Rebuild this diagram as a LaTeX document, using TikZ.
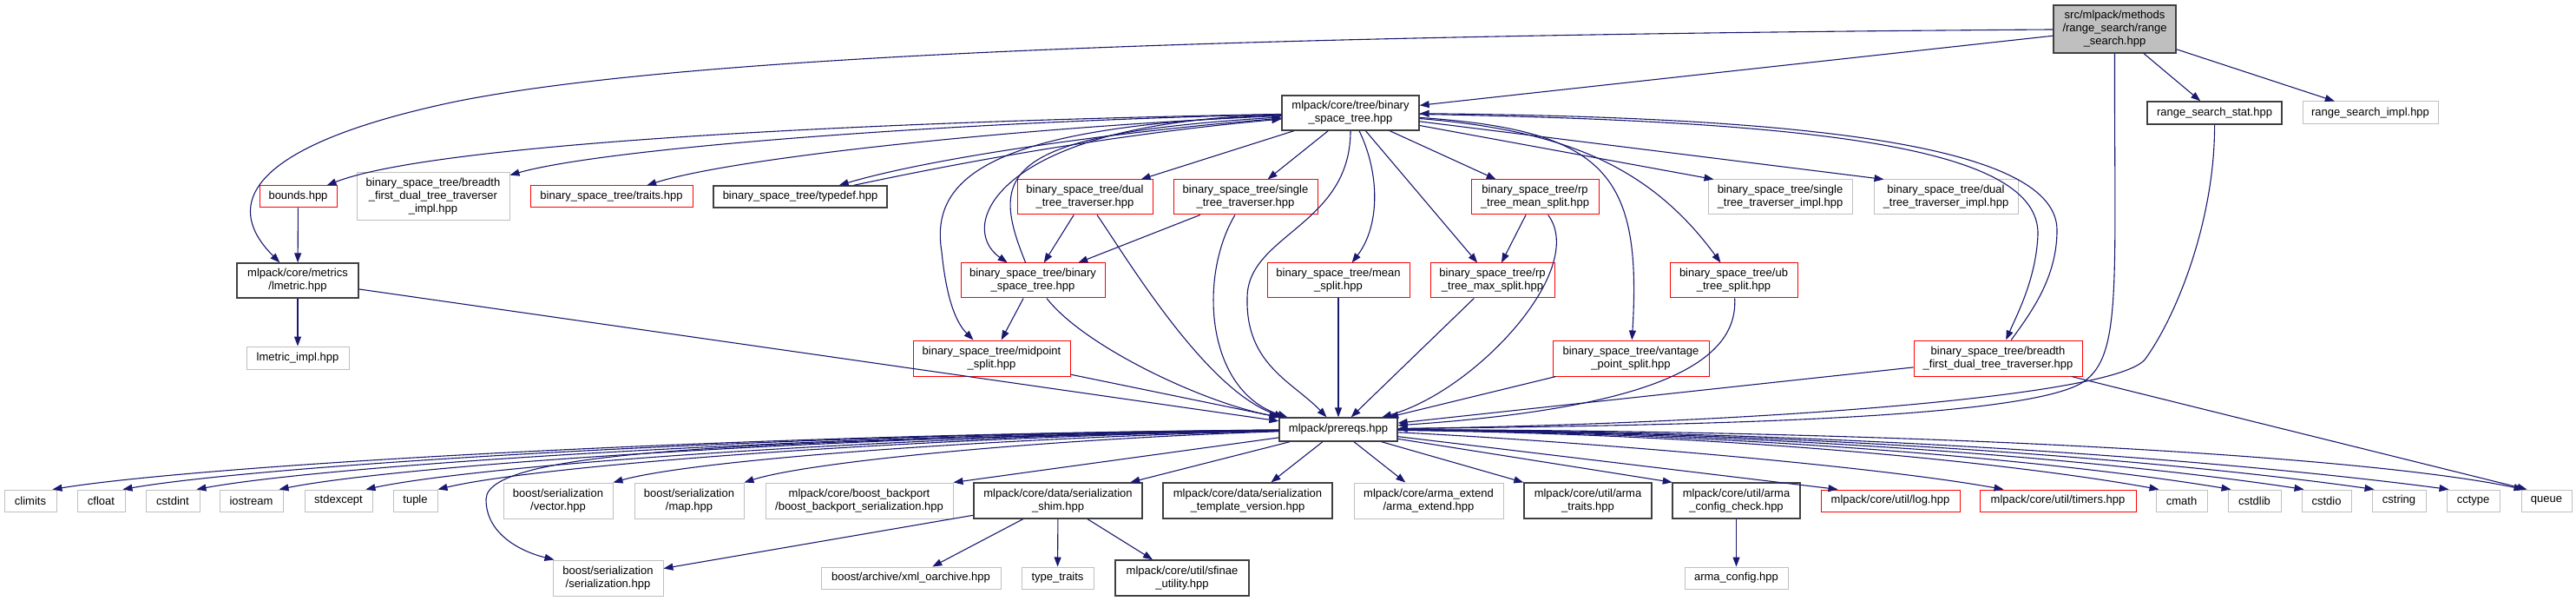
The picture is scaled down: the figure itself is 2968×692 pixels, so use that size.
\documentclass[tikz,border=0pt]{standalone}
\usepackage{fontspec}
\setmainfont{Liberation Sans}
\usetikzlibrary{arrows.meta}
\definecolor{edgecol}{HTML}{191970}
\definecolor{greyb}{HTML}{BFBFBF}
\definecolor{rootfill}{HTML}{BFBFBF}
\definecolor{darkb}{HTML}{404040}
\tikzset{
  nd/.style={rectangle, fill=white, inner sep=0pt, align=center, font=\fontsize{13}{15}\selectfont, line width=1pt, text=black},
  gy/.style={nd, draw=greyb},
  rd/.style={nd, draw=red},
  bk/.style={nd, draw=darkb, line width=1.3pt},
  rt/.style={nd, draw=darkb, fill=rootfill, line width=1.3pt},
  dep/.style={draw=edgecol, line width=1.1pt, -{Triangle[length=11pt,width=8pt]}},
}
\begin{document}
\begin{tikzpicture}[x=1pt,y=-1pt]
\useasboundingbox (0,0) rectangle (2968,692);
% level 0
\node[rt, minimum width=141pt, minimum height=55pt] (root) at (2436.5,33.5) {src/mlpack/methods\\/range\_search/range\\\_search.hpp};
% level 1
\node[bk, minimum width=155pt, minimum height=26pt] (stat) at (2551.5,130) {range\_search\_stat.hpp};
\node[gy, minimum width=156pt, minimum height=26pt] (impl) at (2731,130) {range\_search\_impl.hpp};
\node[bk, minimum width=158pt, minimum height=40pt] (BST) at (1556,130) {mlpack/core/tree/binary\\\_space\_tree.hpp};
% level 2
\node[rd, minimum width=89pt, minimum height=25pt] (bounds) at (343.5,226.5) {bounds.hpp};
\node[gy, minimum width=176pt, minimum height=55pt] (bfdttimpl) at (499,226.5) {binary\_space\_tree/breadth\\\_first\_dual\_tree\_traverser\\\_impl.hpp};
\node[rd, minimum width=187pt, minimum height=25pt] (traits) at (704.5,226.5) {binary\_space\_tree/traits.hpp};
\node[bk, minimum width=200pt, minimum height=25pt] (typedef) at (922,226.5) {binary\_space\_tree/typedef.hpp};
\node[rd, minimum width=156pt, minimum height=40pt] (dualtt) at (1250,227) {binary\_space\_tree/dual\\\_tree\_traverser.hpp};
\node[rd, minimum width=166pt, minimum height=40pt] (singlett) at (1435,227) {binary\_space\_tree/single\\\_tree\_traverser.hpp};
\node[rd, minimum width=147pt, minimum height=40pt] (rpmean) at (1768.5,227) {binary\_space\_tree/rp\\\_tree\_mean\_split.hpp};
\node[gy, minimum width=166pt, minimum height=40pt] (singleimpl) at (2051,227) {binary\_space\_tree/single\\\_tree\_traverser\_impl.hpp};
\node[gy, minimum width=166pt, minimum height=40pt] (dualimpl) at (2242,227) {binary\_space\_tree/dual\\\_tree\_traverser\_impl.hpp};
% level 3
\node[bk, minimum width=140pt, minimum height=40pt] (lmetric) at (343,323) {mlpack/core/metrics\\/lmetric.hpp};
\node[rd, minimum width=166pt, minimum height=40pt] (bstbst) at (1190,323) {binary\_space\_tree/binary\\\_space\_tree.hpp};
\node[rd, minimum width=164pt, minimum height=40pt] (mean) at (1542,323) {binary\_space\_tree/mean\\\_split.hpp};
\node[rd, minimum width=143pt, minimum height=40pt] (rpmax) at (1719.5,323) {binary\_space\_tree/rp\\\_tree\_max\_split.hpp};
\node[rd, minimum width=147pt, minimum height=40pt] (ub) at (1997.5,323) {binary\_space\_tree/ub\\\_tree\_split.hpp};
% level 4
\node[gy, minimum width=118pt, minimum height=26pt] (lmetricimpl) at (343,412) {lmetric\_impl.hpp};
\node[rd, minimum width=181pt, minimum height=41pt] (midpoint) at (1142.5,412.5) {binary\_space\_tree/midpoint\\\_split.hpp};
\node[rd, minimum width=180pt, minimum height=41pt] (vantage) at (1879,412.5) {binary\_space\_tree/vantage\\\_point\_split.hpp};
\node[rd, minimum width=194pt, minimum height=41pt] (bfdtt) at (2302,412.5) {binary\_space\_tree/breadth\\\_first\_dual\_tree\_traverser.hpp};
% prereqs
\node[bk, minimum width=136pt, minimum height=27pt] (prereqs) at (1542,494.5) {mlpack/prereqs.hpp};
% level 6
\node[gy, minimum width=60pt, minimum height=25pt] (climits) at (35,576.5) {climits};
\node[gy, minimum width=55pt, minimum height=25pt] (cfloat) at (116.5,576.5) {cfloat};
\node[gy, minimum width=62pt, minimum height=25pt] (cstdint) at (199,576.5) {cstdint};
\node[gy, minimum width=73pt, minimum height=25pt] (iostream) at (289.5,576.5) {iostream};
\node[gy, minimum width=78pt, minimum height=25pt] (stdexcept) at (390,576.5) {stdexcept};
\node[gy, minimum width=51pt, minimum height=25pt] (tuple) at (478.5,576.5) {tuple};
\node[gy, minimum width=126pt, minimum height=41pt] (vector) at (643,576.5) {boost/serialization\\/vector.hpp};
\node[gy, minimum width=126pt, minimum height=41pt] (map) at (794,576.5) {boost/serialization\\/map.hpp};
\node[gy, minimum width=216pt, minimum height=41pt] (backport) at (990,576.5) {mlpack/core/boost\_backport\\/boost\_backport\_serialization.hpp};
\node[bk, minimum width=194pt, minimum height=41pt] (shim) at (1219,576.5) {mlpack/core/data/serialization\\\_shim.hpp};
\node[bk, minimum width=195pt, minimum height=41pt] (tmplver) at (1437.5,576.5) {mlpack/core/data/serialization\\\_template\_version.hpp};
\node[gy, minimum width=172pt, minimum height=41pt] (armaext) at (1646,576.5) {mlpack/core/arma\_extend\\/arma\_extend.hpp};
\node[bk, minimum width=147pt, minimum height=41pt] (armatraits) at (1829.5,576.5) {mlpack/core/util/arma\\\_traits.hpp};
\node[bk, minimum width=147pt, minimum height=41pt] (armacc) at (2000.5,576.5) {mlpack/core/util/arma\\\_config\_check.hpp};
\node[rd, minimum width=160pt, minimum height=25pt] (log) at (2178,576.5) {mlpack/core/util/log.hpp};
\node[rd, minimum width=180pt, minimum height=25pt] (timers) at (2371,576.5) {mlpack/core/util/timers.hpp};
\node[gy, minimum width=59pt, minimum height=25pt] (cmath) at (2513.5,576.5) {cmath};
\node[gy, minimum width=61pt, minimum height=25pt] (cstdlib) at (2597.5,576.5) {cstdlib};
\node[gy, minimum width=57pt, minimum height=25pt] (cstdio) at (2680.5,576.5) {cstdio};
\node[gy, minimum width=62pt, minimum height=25pt] (cstring) at (2764,576.5) {cstring};
\node[gy, minimum width=61pt, minimum height=25pt] (cctype) at (2849.5,576.5) {cctype};
\node[gy, minimum width=58pt, minimum height=25pt] (queue) at (2934,576.5) {queue};
% level 7
\node[gy, minimum width=127pt, minimum height=41pt] (serial) at (700.5,665.5) {boost/serialization\\/serialization.hpp};
\node[gy, minimum width=207pt, minimum height=25pt] (xml) at (1049.5,665.5) {boost/archive/xml\_oarchive.hpp};
\node[gy, minimum width=83pt, minimum height=25pt] (typetraits) at (1218.5,665.5) {type\_traits};
\node[bk, minimum width=154pt, minimum height=41pt] (sfinae) at (1362,665.5) {mlpack/core/util/sfinae\\\_utility.hpp};
\node[gy, minimum width=119pt, minimum height=25pt] (armaconfig) at (2000.5,665.5) {arma\_config.hpp};

% ---- edges from root
\draw[dep] (root) -- (BST);
\draw[dep] (root) .. controls (1500,40) and (800,60) .. (520,118) .. controls (300,165) and (250,230) .. (lmetric);
\draw[dep] (root) -- (stat);
\draw[dep] (root) -- (impl);
\draw[dep] (root) .. controls (2436,330) and (2445,410) .. (2400,440) .. controls (2330,485) and (1900,490) .. (prereqs);
\draw[dep] (stat) .. controls (2552,250) and (2510,360) .. (2472,413) .. controls (2440,458) and (2000,488) .. (prereqs);
% ---- edges from BST
\draw[dep] (BST) .. controls (1000,140) and (500,165) .. (bounds);
\draw[dep] (BST) .. controls (1100,140) and (700,170) .. (bfdttimpl);
\draw[dep] (BST) .. controls (1200,145) and (850,180) .. (traits);
\draw[dep] (BST) .. controls (1300,150) and (1080,180) .. (typedef);
\draw[dep] (typedef) .. controls (1140,180) and (1310,152) .. (BST);
\draw[dep] (BST) .. controls (1150,140) and (1100,260) .. (bstbst);
\draw[dep] (bstbst) .. controls (1140,200) and (1150,155) .. (BST);
\draw[dep] (BST) .. controls (1150,145) and (1070,200) .. (1085,290) .. controls (1090,340) and (1100,370) .. (midpoint);
\draw[dep] (BST) -- (dualtt);
\draw[dep] (BST) -- (singlett);
\draw[dep] (BST) .. controls (1556,260) and (1437,270) .. (1437,343) .. controls (1435,420) and (1490,440) .. (prereqs);
\draw[dep] (BST) .. controls (1590,200) and (1590,260) .. (mean);
\draw[dep] (BST) -- (rpmax);
\draw[dep] (BST) -- (rpmean);
\draw[dep] (BST) -- (singleimpl.165);
\draw[dep] (BST) -- (dualimpl.164);
\draw[dep] (BST) .. controls (1800,150) and (1900,190) .. (ub);
\draw[dep] (BST) .. controls (1850,150) and (1892,200) .. (vantage);
\draw[dep] (BST) .. controls (2100,140) and (2350,170) .. (2348,270) .. controls (2346,320) and (2325,360) .. (bfdtt);
\draw[dep] (bfdtt) .. controls (2340,360) and (2370,320) .. (2370,265) .. controls (2370,170) and (2100,135) .. (BST);
% ---- middle edges
\draw[dep] (dualtt) -- (bstbst);
\draw[dep] (singlett) -- (bstbst);
\draw[dep] (dualtt) .. controls (1300,300) and (1390,450) .. ([xshift=6pt]prereqs.north west);
\draw[dep] (singlett) .. controls (1380,320) and (1390,450) .. ([xshift=10pt]prereqs.north west);
\draw[dep] (bstbst) .. controls (1250,400) and (1390,465) .. ([xshift=2pt]prereqs.north west);
\draw[dep] (bstbst) -- (midpoint);
\draw[dep] (midpoint) -- (prereqs);
\draw[dep] (mean) -- (prereqs);
\draw[dep] (rpmax) -- (prereqs);
\draw[dep] (rpmean) -- (rpmax);
\draw[dep] (rpmean) .. controls (1830,310) and (1700,450) .. (prereqs);
\draw[dep] (ub) .. controls (2003,420) and (1900,470) .. (prereqs);
\draw[dep] (vantage) -- (prereqs);
\draw[dep] (bfdtt) -- (prereqs);
\draw[dep] (bfdtt) -- (queue.150);
\draw[dep] (lmetric) -- (prereqs);
\draw[dep] (bounds) -- (lmetric);
\draw[dep] (lmetric) -- (lmetricimpl);
% ---- edges from prereqs, left
\draw[dep] (prereqs) .. controls (838,500) and (230,536) .. ([xshift=-5pt]climits.north east);
\draw[dep] (prereqs) .. controls (874,500) and (300,536) .. ([xshift=-3pt]cfloat.north east);
\draw[dep] (prereqs) .. controls (912,501) and (375,536) .. ([xshift=-4pt]cstdint.north east);
\draw[dep] (prereqs) .. controls (955,502) and (459,536) .. ([xshift=-5pt]iostream.north east);
\draw[dep] (prereqs) .. controls (1002,503) and (550,536) .. ([xshift=-8pt]stdexcept.north east);
\draw[dep] (prereqs) .. controls (1037,504) and (620,536) .. (tuple.north east);
\draw[dep] (prereqs) .. controls (1128,505) and (798,530) .. (vector.north east);
\draw[dep] (prereqs) .. controls (1196,506) and (931,532) .. (map.north east);
\draw[dep] (prereqs) -- (backport.north east);
\draw[dep] (prereqs) .. controls (900,508) and (560,515) .. (560,575) .. controls (560,615) and (600,635) .. ([xshift=2pt]serial.north west);
\draw[dep] (prereqs) -- (shim);
\draw[dep] (prereqs) -- (tmplver);
\draw[dep] (prereqs) -- (armaext);
\draw[dep] (prereqs) -- (armatraits);
\draw[dep] (prereqs) -- (armacc.164);
% ---- edges from prereqs, right
\draw[dep] (prereqs) -- ([xshift=20pt]log.north west);
\draw[dep] (prereqs) .. controls (1800,507) and (2150,535) .. ([xshift=28pt]timers.north west);
\draw[dep] (prereqs) .. controls (2050,501) and (2358,540) .. ([xshift=4pt]cmath.north west);
\draw[dep] (prereqs) .. controls (2092,500) and (2429,540) .. ([xshift=4pt]cstdlib.north west);
\draw[dep] (prereqs) .. controls (2134,499) and (2500,540) .. ([xshift=3pt]cstdio.north west);
\draw[dep] (prereqs) .. controls (2175,498) and (2570,540) .. ([xshift=3pt]cstring.north west);
\draw[dep] (prereqs) .. controls (2218,497) and (2644,540) .. ([xshift=3pt]cctype.north west);
\draw[dep] (prereqs) .. controls (2260,496) and (2740,528) .. ([xshift=3pt]queue.north west);
% ---- lower edges
\draw[dep] (shim) -- (serial);
\draw[dep] (shim) -- (xml);
\draw[dep] (shim) -- (typetraits);
\draw[dep] (shim) -- (sfinae);
\draw[dep] (armacc) -- (armaconfig);
\end{tikzpicture}
\end{document}
